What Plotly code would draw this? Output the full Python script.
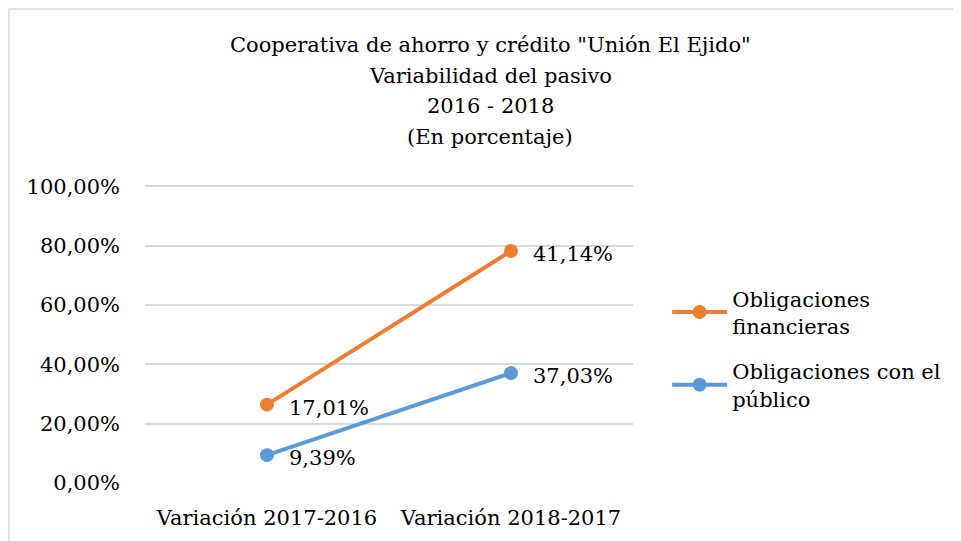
import plotly.graph_objects as go

categorias = ["Variación 2017-2016", "Variación 2018-2017"]
obligaciones_publico = [9.39, 37.03]
obligaciones_financieras = [17.01, 41.14]
nombres = ["Obligaciones con el<br>público", "Obligaciones<br>financieras"]
titulo = [
  "Cooperativa de ahorro y crédito \"Unión El Ejido\"",
  "Variabilidad del pasivo",
  "2016 - 2018",
  "(En porcentaje)",
]
y_ticks = [0, 20, 40, 60, 80, 100]
y_tick_labels = ["0,00%", "20,00%", "40,00%", "60,00%", "80,00%", "100,00%"]

FONT = "DejaVu Serif, Liberation Serif, serif"
SIZE = 21
AZUL = "#5B9BD5"
NARANJA = "#ED7D31"

# plot area in figure pixels (figure sits 8px in from the page corner)
PLOT_TOP, PLOT_BOTTOM, PLOT_LEFT, PLOT_W = 177, 475, 137, 488
PLOT_H = PLOT_BOTTOM - PLOT_TOP


def etiquetas(valores):
  return [f"{v:.2f}%".replace(".", ",") for v in valores]


fig = go.Figure()
# Excel-style stacked line: second series sits on top of the first
fig.add_trace(go.Scatter(
  x=categorias, y=obligaciones_publico, name=nombres[0],
  legendgroup="pub", legendrank=2,
  stackgroup="one", fill="none", mode="lines+markers",
  line=dict(color=AZUL, width=4), marker=dict(color=AZUL, size=14),
))
fig.add_trace(go.Scatter(
  x=categorias, y=obligaciones_financieras, name=nombres[1],
  legendgroup="fin", legendrank=1,
  stackgroup="one", fill="none", mode="lines+markers",
  line=dict(color=NARANJA, width=4), marker=dict(color=NARANJA, size=14),
))

# data labels show each series' own value, placed at the stacked position
acumulado = [a + b for a, b in zip(obligaciones_publico, obligaciones_financieras)]
for serie, alturas in ((obligaciones_publico, obligaciones_publico),
                       (obligaciones_financieras, acumulado)):
  for cat, txt, y in zip(categorias, etiquetas(serie), alturas):
    fig.add_annotation(x=cat, y=y, text=txt, showarrow=False,
                       xanchor="left", xshift=20, yshift=-3,
                       font=dict(family=FONT, size=SIZE, color="#000000"))

# title lines, spaced like the Excel original (30px apart)
for i, linea in enumerate(titulo):
  fig_y = 37 + 30.5 * i
  fig.add_annotation(
    xref="paper", yref="paper", x=(482 - PLOT_LEFT) / PLOT_W,
    y=(PLOT_BOTTOM - fig_y) / PLOT_H,
    text=linea, showarrow=False, xanchor="center", yanchor="middle",
    font=dict(family=FONT, size=SIZE, color="#000000"),
  )

fig.update_layout(
  width=953, height=533,
  paper_bgcolor="white", plot_bgcolor="white",
  font=dict(family=FONT, size=SIZE, color="#000000"),
  margin=dict(l=PLOT_LEFT, r=953 - PLOT_LEFT - PLOT_W, t=PLOT_TOP, b=533 - PLOT_BOTTOM),
  legend=dict(
    x=1.07, xanchor="left", y=0.687, yanchor="top",
    itemwidth=55, tracegroupgap=15,
    font=dict(family=FONT, size=SIZE, color="#000000"),
    bgcolor="rgba(0,0,0,0)",
  ),
  xaxis=dict(
    type="category", range=[-0.5, 1.5], showgrid=False, showline=False,
    ticks="", tickfont=dict(size=SIZE), ticklabelstandoff=20,
  ),
  yaxis=dict(
    range=[0, 100.4], tickmode="array", tickvals=y_ticks, ticktext=y_tick_labels,
    showgrid=True, gridcolor="#D9D9D9", gridwidth=1.5, zeroline=False,
    showline=False, ticks="", tickfont=dict(size=SIZE), ticklabelstandoff=24,
  ),
  shapes=[dict(
    type="rect", xref="paper", yref="paper",
    x0=(1 - PLOT_LEFT) / PLOT_W, x1=(1000 - PLOT_LEFT) / PLOT_W,
    y0=-(700 - PLOT_BOTTOM) / PLOT_H, y1=(PLOT_BOTTOM - 1) / PLOT_H,
    line=dict(color="#D9D9D9", width=1.5), fillcolor="rgba(0,0,0,0)", layer="below",
  )],
)

fig.write_html("out.html")
